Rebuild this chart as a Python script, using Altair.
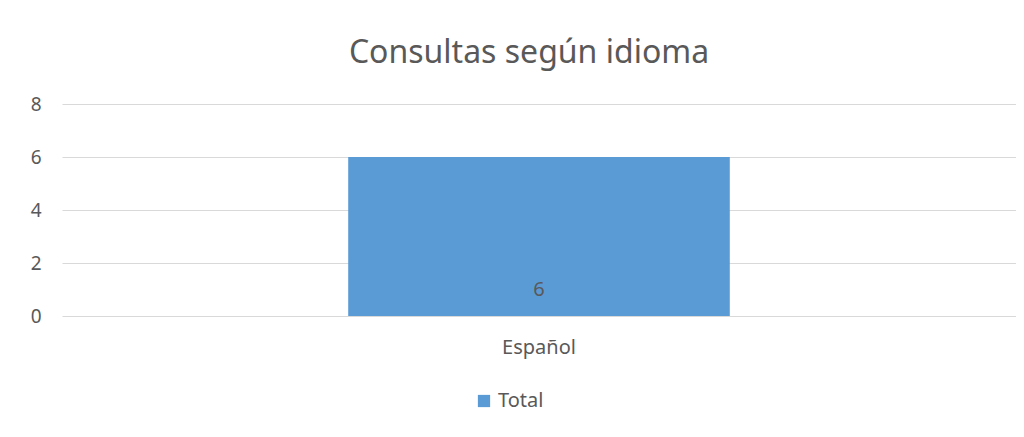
import altair as alt
import pandas as pd

categories = ["Español"]
values = [6]
series = ["Total"]

df = pd.DataFrame({"idioma": categories, "valor": values, "serie": series})

FONT = "Noto Sans"
TXT = "#595959"
GRID = "#d9d9d9"
BLUE = "#5b9bd5"

W, H = 954, 212

x = alt.X("idioma:N", title=None,
          scale=alt.Scale(paddingInner=0, paddingOuter=0.75),
          axis=alt.Axis(labelAngle=0, ticks=False, domain=False, labelFontSize=20,
                        labelColor=TXT, labelFont=FONT, labelPadding=21))
y = alt.Y("valor:Q", title=None,
          scale=alt.Scale(domain=[0, 8]),
          axis=alt.Axis(values=[0, 2, 4, 6, 8], ticks=False, domain=False,
                        gridColor=GRID, gridWidth=1, labelFontSize=19,
                        labelColor=TXT, labelFont=FONT, labelPadding=21))

bars = alt.Chart(df).mark_bar(color=BLUE).encode(
    x=x, y=y,
    fill=alt.Fill("serie:N", scale=alt.Scale(range=[BLUE]),
                  legend=alt.Legend(title=None, orient="none", legendX=412, legendY=287,
                                    symbolType="square", symbolSize=150,
                                    labelFontSize=20, labelColor=TXT, labelFont=FONT,
                                    labelOffset=4, symbolStrokeWidth=0)),
)

labels = alt.Chart(df).mark_text(color=TXT, fontSize=20, font=FONT, dy=-26, baseline="middle").encode(
    x=alt.X("idioma:N"), y=alt.datum(0), text=alt.Text("valor:Q")
)

chart = (bars + labels).properties(
    width=W, height=H,
    background="white",
    title=alt.TitleParams("Consultas según idioma", fontSize=32, font=FONT, color=TXT,
                          fontWeight="normal", anchor="middle", offset=25, dx=-10),
    autosize=alt.AutoSizeParams(type="none"),
    padding={"left": 54, "top": 96, "right": 0, "bottom": 105},
).configure_view(stroke=None)

chart.save("out.html", embed_options={"renderer": "svg", "actions": False})
